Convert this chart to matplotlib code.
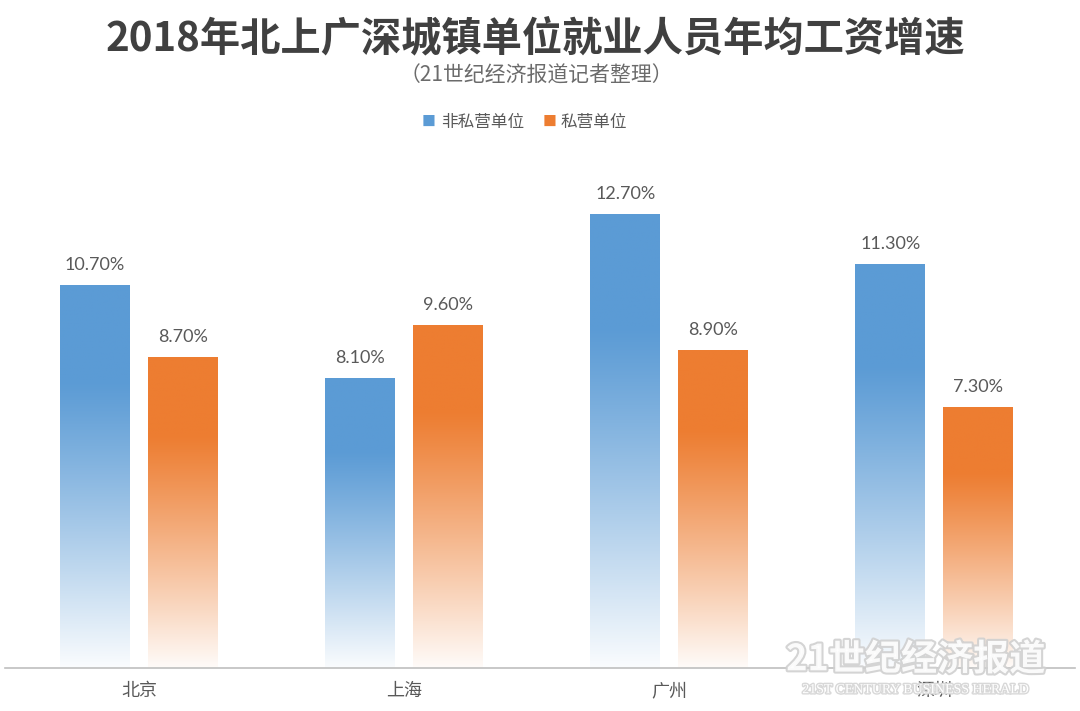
import numpy as np
import matplotlib.pyplot as plt
import matplotlib.patheffects as pe
from matplotlib.colors import to_rgb

plt.rcParams['font.family'] = ['Noto Sans CJK SC', 'DejaVu Sans']

# data
cities = ['北京', '上海', '广州', '深圳']
non_private = [10.7, 8.1, 12.7, 11.3]
private = [8.7, 9.6, 8.9, 7.3]
series_names = ['非私营单位', '私营单位']

blue = '#5B9BD5'
orange = '#ED7D31'

fig = plt.figure(figsize=(10.8, 7.11), dpi=100)
ax = fig.add_axes([0.0046, 0.0605, 0.991, 0.7032])

x = np.arange(len(cities))
w = 0.264
off = 0.166

bars1 = ax.bar(x - off, non_private, w, color='none', label=series_names[0])
bars2 = ax.bar(x + off, private, w, color='none', label=series_names[1])


def gradient_fill(bars, color):
    c = np.array(to_rgb(color))
    t = np.linspace(0, 1, 256)  # 0 = top, 1 = bottom
    f = np.clip((t - 0.25) / 0.75, 0, 1) ** 1.1 * 0.97
    img = c[None, :] * (1 - f[:, None]) + np.ones(3)[None, :] * f[:, None]
    img = img[:, None, :]
    for b in bars:
        x0, y0 = b.get_x(), b.get_y()
        ax.imshow(img, extent=[x0, x0 + b.get_width(), y0, y0 + b.get_height()],
                  aspect='auto', origin='upper', zorder=2)


gradient_fill(bars1, blue)
gradient_fill(bars2, orange)

for bars in (bars1, bars2):
    for b in bars:
        ax.annotate(f'{b.get_height():.2f}%', (b.get_x() + b.get_width() / 2, b.get_height()),
                    xytext=(0, 9), textcoords='offset points', ha='center', va='bottom',
                    fontsize=13, color='#595959', family=['Lato', 'DejaVu Sans'])

ax.set_xlim(-0.5057, 3.532)
ax.set_ylim(0, 14)
ax.set_xticks(x)
ax.set_xticklabels(cities, fontsize=13, color='#595959')
ax.tick_params(axis='x', length=0, pad=10)
ax.set_yticks([])
for s in ['top', 'left', 'right']:
    ax.spines[s].set_visible(False)
ax.spines['bottom'].set_color('#BFBFBF')
ax.spines['bottom'].set_linewidth(1.2)

# legend made of squares + text
fig.text(0.3965, 0.828, '■', color=blue, fontsize=10, ha='center', va='center')
fig.text(0.408, 0.828, series_names[0], color='#595959', fontsize=12, ha='left', va='center')
fig.text(0.5085, 0.828, '■', color=orange, fontsize=10, ha='center', va='center')
fig.text(0.519, 0.828, series_names[1], color='#595959', fontsize=12, ha='left', va='center')

fig.text(0.496, 0.945, '2018年北上广深城镇单位就业人员年均工资增速', fontsize=29,
         fontweight='bold', color='#404040', ha='center', va='center')
fig.text(0.497, 0.894, '（21世纪经济报道记者整理）', fontsize=15,
         color='#6b6b6b', ha='center', va='center')

# watermark
wm = fig.text(0.848, 0.072, '21世纪经济报道', fontsize=26, fontweight='bold',
              color='white', ha='center', va='center', alpha=0.9)
wm.set_path_effects([pe.withStroke(linewidth=3, foreground='#d0d0d0')])
wm2 = fig.text(0.848, 0.030, '21ST CENTURY BUSINESS HERALD', fontsize=10,
               color='white', ha='center', va='center', family=['Liberation Serif', 'DejaVu Serif'])
wm2.set_path_effects([pe.withStroke(linewidth=2, foreground='#d8d8d8')])

fig.savefig('out.png', dpi=100)
